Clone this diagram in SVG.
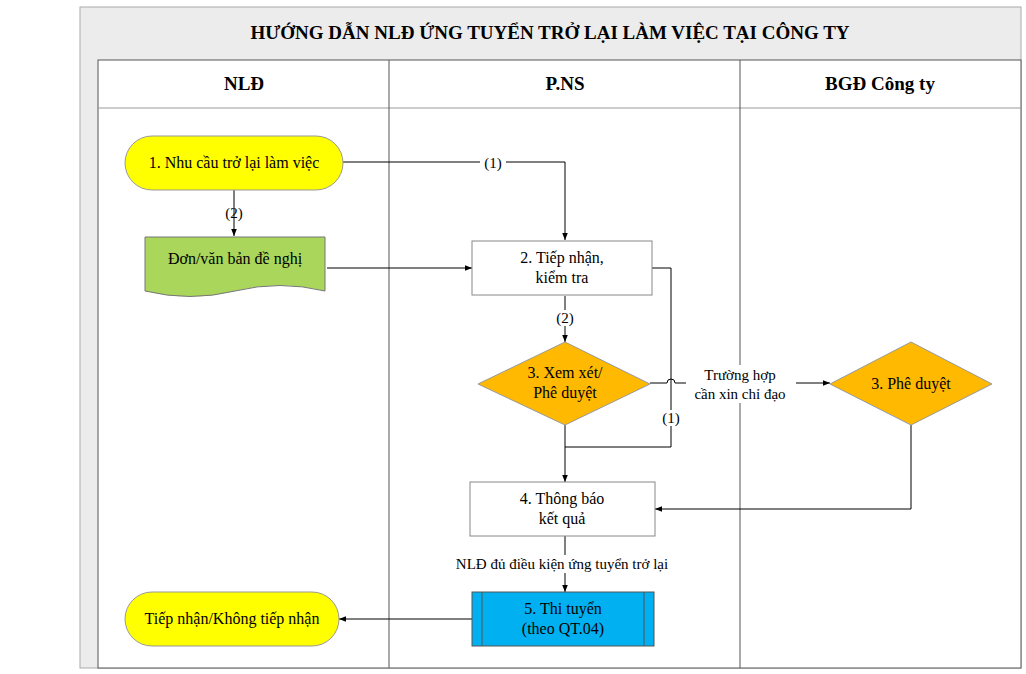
<svg xmlns="http://www.w3.org/2000/svg" width="1026" height="674" viewBox="0 0 1026 674">
<defs>
<marker id="a" viewBox="0 0 10 10" refX="10" refY="5" markerWidth="7" markerHeight="7" orient="auto"><path d="M0,1 L10,5 L0,9 z" fill="#000"/></marker>
</defs>
<style>
text{font-family:"Liberation Serif",serif;font-size:16px;fill:#000;text-anchor:middle}
.h{font-weight:bold;font-size:19px}
.c{fill:none;stroke:#000;stroke-width:1;marker-end:url(#a)}
.l{fill:none;stroke:#000;stroke-width:1}
.lab{font-size:15px}
</style>
<rect width="1026" height="674" fill="#fff"/>
<rect x="80" y="7" width="941" height="661" fill="#ececec" stroke="#aaa"/>
<rect x="98" y="60" width="923" height="608" fill="#fff" stroke="#555"/>
<line x1="98" y1="108" x2="1021" y2="108" stroke="#999"/>
<line x1="389" y1="60" x2="389" y2="668" stroke="#555"/>
<line x1="740" y1="60" x2="740" y2="668" stroke="#555"/>
<text class="h" x="550" y="39">HƯỚNG DẪN NLĐ ỨNG TUYỂN TRỞ LẠI LÀM VIỆC TẠI CÔNG TY</text>
<text class="h" x="244" y="90">NLĐ</text>
<text class="h" x="565" y="90">P.NS</text>
<text class="h" x="880" y="90">BGĐ Công ty</text>
<g id="connectors">
<path class="c" d="M343,162 H565 V240"/>
<rect x="480" y="155" width="26" height="16" fill="#fff"/>
<text class="lab" x="493" y="168">(1)</text>
<path class="c" d="M234,190 V236"/>
<text class="lab" x="234" y="218">(2)</text>
<path class="c" d="M327,268 H472"/>
<path class="c" d="M565,296 V342"/>
<rect x="552" y="310" width="26" height="16" fill="#fff"/>
<text class="lab" x="565" y="323">(2)</text>
<path class="l" d="M652,268 H671 V447 H565"/>
<rect x="660" y="410" width="22" height="16" fill="#fff"/>
<text class="lab" x="671" y="423">(1)</text>
<path class="c" d="M565,425 V482"/>
<path class="c" d="M650,383 H667 a4,4 0 0 1 8,0 H830"/>
<rect x="686" y="365" width="110" height="38" fill="#fff"/>
<text class="lab" x="740" y="380">Trường hợp</text>
<text class="lab" x="740" y="399">cần xin chỉ đạo</text>
<path class="c" d="M911,425 V509 H655"/>
<path class="c" d="M565,536 V592"/>
<rect x="430" y="555" width="262" height="18" fill="#fff"/>
<text class="lab" x="562" y="569">NLĐ đủ điều kiện ứng tuyển trở lại</text>
<path class="c" d="M472,619 H339"/>
</g>
<g id="n1"><rect x="125" y="136" width="218" height="54" rx="27" fill="#ffff00" stroke="#999"/><text x="234" y="168">1. Nhu cầu trở lại làm việc</text></g>
<g id="n2"><path d="M145,237 H325 V291 Q280,280 235,291 T145,291 Z" fill="#a9d65b" stroke="#777"/><text x="235" y="264">Đơn/văn bản đề nghị</text></g>
<g id="n3"><rect x="472" y="241" width="180" height="54" fill="#fff" stroke="#888"/><text x="562" y="263">2. Tiếp nhận,</text><text x="562" y="283">kiểm tra</text></g>
<g id="n4"><path d="M565,342 L650,384 L565,425 L478,384 Z" fill="#ffb900" stroke="#999"/><text x="565" y="378">3. Xem xét/</text><text x="565" y="398">Phê duyệt</text></g>
<g id="n5"><path d="M911,342 L992,384 L911,425 L830,384 Z" fill="#ffb900" stroke="#999"/><text x="911" y="389">3. Phê duyệt</text></g>
<g id="n6"><rect x="470" y="482" width="185" height="54" fill="#fff" stroke="#888"/><text x="562" y="504">4. Thông báo</text><text x="562" y="524">kết quả</text></g>
<g id="n7"><rect x="472" y="592" width="182" height="54" fill="#00b0f0" stroke="#555"/><line x1="482" y1="592" x2="482" y2="646" stroke="#555"/><line x1="644" y1="592" x2="644" y2="646" stroke="#555"/><text x="563" y="614">5. Thi tuyển</text><text x="563" y="634">(theo QT.04)</text></g>
<g id="n8"><rect x="125" y="592" width="214" height="54" rx="27" fill="#ffff00" stroke="#999"/><text x="232" y="624">Tiếp nhận/Không tiếp nhận</text></g>
</svg>
